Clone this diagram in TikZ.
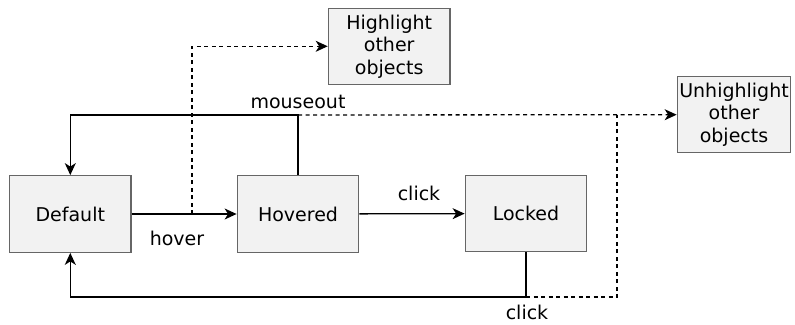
\documentclass[tikz,border=0pt]{standalone}
\usepackage{fontspec}
\setmainfont{DejaVu Sans}
\usetikzlibrary{arrows.meta}
\definecolor{boxfill}{HTML}{F2F2F2}
\definecolor{boxline}{HTML}{666666}
\begin{document}
\begin{tikzpicture}[x=1pt,y=-1pt,
  txt/.style={font=\fontsize{19}{22.5}\selectfont},
  state/.style={txt, draw=boxline, fill=boxfill, line width=1.3pt,
    minimum width=121.5pt, minimum height=76.5pt, inner sep=0pt, align=center},
  tip/.style={-{Stealth[length=12pt,width=11pt,inset=3.5pt]}},
  flow/.style={line width=1.3pt, tip},
  link/.style={line width=1.3pt},
  dashlink/.style={line width=1.3pt, dash pattern=on 4pt off 3.5pt},
  dashflow/.style={dashlink, tip},
  lbl/.style={txt, inner sep=0pt}
]
\useasboundingbox (0,0) rectangle (795,324);

% states
\node[state] (def) at (70.3,214) {Default};
\node[state] (hov) at (298,214) {Hovered};
\node[state] (lck) at (526,213.5) {Locked};
% side effects
\node[state, minimum width=121.7pt, minimum height=76pt] (hl) at (389.2,46.3) {Highlight\\other\\objects};
\node[state, minimum width=113.4pt, minimum height=76pt] (uh) at (734,114.7) {Unhighlight\\other\\objects};

% junction points
\coordinate (hj) at (192,214);
\coordinate (mo) at (hov.north |- 0,115);
\coordinate (lk) at (lck.south |- 0,297);
\coordinate (uj) at (617,115);

% transitions
\draw[flow] (def) -- (hov);
\draw[flow] (hov) -- (lck);
\draw[flow] (hov.north) -- (mo) -| (def.north);
\draw[flow] (lck.south) -- (lk) -| (def.south);

% triggered effects
\draw[dashflow] (hj) |- (hl.west);
\draw[dashflow] (mo) -- (uh.west);
\draw[dashlink] (lk) -| (uj);

% labels
\node[lbl] (lhover) at (177,238) {hover};
\node[lbl] (lmouse) at (298,101.7) {mouseout};
\node[lbl] (lclick1) at (419,193) {click};
\node[lbl] (lclick2) at (527,312.5) {click};
\end{tikzpicture}
\end{document}
